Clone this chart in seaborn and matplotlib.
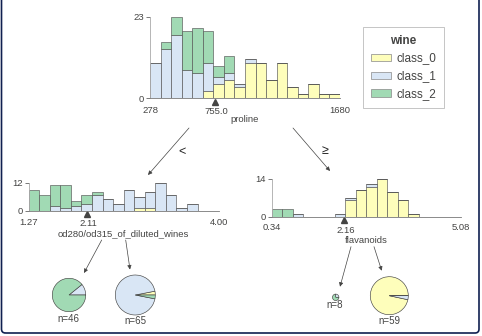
import numpy as np
import pandas as pd
import matplotlib
matplotlib.use("Agg")
import matplotlib.pyplot as plt
import seaborn as sns
from matplotlib.patches import Patch, FancyBboxPatch, FancyArrowPatch
from matplotlib.transforms import offset_copy

# ---------------- data ----------------
classes = ["class_0", "class_1", "class_2"]
class_colors = ["#FEFEBB", "#D9E6F5", "#a1dab4"]
target_name = "wine"

# root node: proline
proline_ticks = ["278", "1680"]
proline_range = [278, 1680]
proline_split = 755.0
proline_c0 = [0, 0, 0, 0, 0, 2, 4, 5, 3, 10, 10, 5, 10, 3, 1, 4, 1, 1]
proline_c1 = [10, 14, 18, 8, 7, 8, 2, 2, 1, 1, 0, 0, 0, 0, 0, 0, 0, 0]
proline_c2 = [0, 2, 5, 11, 13, 9, 3, 5, 0, 0, 0, 0, 0, 0, 0, 0, 0, 0]
proline_ymax = 23

# left node: od280/od315_of_diluted_wines
od_ticks = ["1.27", "4.00"]
od_range = [1.27, 4.00]
od_split = 2.11
od_c0 = [0, 0, 0, 0, 0, 0, 0, 0, 0, 0, 1, 1, 0, 0, 0, 0, 0, 0]
od_c1 = [0, 0, 2, 1, 2, 3, 7, 5, 3, 9, 5, 7, 12, 7, 1, 3, 0, 0]
od_c2 = [9, 7, 9, 10, 2, 4, 1, 0, 0, 0, 0, 0, 0, 0, 0, 0, 0, 0]
od_ymax = 12

# right node: flavanoids
flav_ticks = ["0.34", "5.08"]
flav_range = [0.34, 5.08]
flav_split = 2.16
flav_c0 = [0, 0, 0, 0, 0, 0, 0, 6, 10, 11, 14, 9, 6, 1, 0, 0, 0, 0]
flav_c1 = [0, 0, 1, 0, 0, 0, 1, 1, 0, 1, 0, 0, 0, 0, 0, 0, 0, 0]
flav_c2 = [3, 3, 0, 0, 0, 0, 0, 0, 0, 0, 0, 0, 0, 0, 0, 0, 0, 0]
flav_ymax = 14

# leaves
leaf_labels = ["n=46", "n=65", "n=8", "n=59"]
leaf_counts = [[0, 5, 41], [2, 61, 2], [0, 2, 6], [57, 2, 0]]

edge_labels = ["<", "\u2265"]

# ---------------- style ----------------
W, H = 482, 336
TXT = "#444443"
FONT = ["Liberation Sans", "DejaVu Sans"]
sns.set_style("white")
plt.rcParams["font.family"] = FONT
plt.rcParams["text.color"] = TXT

fig = plt.figure(figsize=(W / 100, H / 100), dpi=100)
fig.patch.set_facecolor("white")


def px_axes(x0, x1, ytop, ybot):
    return fig.add_axes([x0 / W, (H - ybot) / H, (x1 - x0) / W, (ybot - ytop) / H])


palette = dict(zip(classes, class_colors))


def node_hist(ax, rng, counts, ymax, ticks, split, xlabel, tick_pad, split_off, label_off):
    nb = len(counts[0])
    edges = np.linspace(rng[0], rng[1], nb + 1)
    centers = (edges[:-1] + edges[1:]) / 2
    rows = []
    for cls, cnt in zip(classes, counts):
        for c, n in zip(centers, cnt):
            rows.append((c, cls, n))
    df = pd.DataFrame(rows, columns=["x", "cls", "n"])
    sns.histplot(data=df, x="x", weights="n", hue="cls",
                 hue_order=classes[::-1], multiple="stack", bins=nb,
                 binrange=(rng[0], rng[1]),
                 palette=palette, edgecolor="#555555", linewidth=0.45, alpha=1,
                 legend=False, ax=ax)
    ax.set_xlim(rng)
    ax.set_ylim(0, ymax)
    ax.set_xticks(rng)
    ax.set_xticklabels(ticks)
    ax.set_yticks([0, ymax])
    ax.set_yticklabels([str(0), str(ymax)])
    ax.set_xlabel("")
    ax.set_ylabel("")
    for s in ["top", "right"]:
        ax.spines[s].set_visible(False)
    ax.spines["left"].set_color("#aaaaaa")
    ax.spines["left"].set_linewidth(0.6)
    ax.spines["bottom"].set_color("#777777")
    ax.spines["bottom"].set_linewidth(0.6)
    ax.tick_params(axis="x", length=0, pad=tick_pad, labelsize=6.8, colors=TXT)
    ax.tick_params(axis="y", length=3, width=0.5, pad=1.5, labelsize=6.8,
                   colors=TXT, left=True)
    ax.patch.set_alpha(0)
    tr = offset_copy(ax.get_xaxis_transform(), fig=fig, x=0, y=-3.5, units="dots")
    ax.plot([split], [0], marker="^", color=TXT, markersize=4.5,
            transform=tr, clip_on=False)
    ax.annotate(f"{split:.2f}" if split < 100 else f"{split:.1f}",
                xy=(split, 0), xycoords=ax.get_xaxis_transform(),
                xytext=(1.5, -split_off), textcoords="offset pixels",
                ha="center", va="center", fontsize=6.8, color=TXT)
    ax.annotate(xlabel, xy=(0.5, 0), xycoords="axes fraction",
                xytext=(0, -label_off), textcoords="offset pixels",
                ha="center", va="center", fontsize=6.8, color=TXT)


ax_root = px_axes(150, 340, 17, 98)
node_hist(ax_root, proline_range, [proline_c0, proline_c1, proline_c2],
          proline_ymax, proline_ticks, proline_split, "proline", 5.8, 14, 22)

ax_left = px_axes(28.7, 218.7, 183, 210.7)
node_hist(ax_left, od_range, [od_c0, od_c1, od_c2], od_ymax, od_ticks,
          od_split, "od280/od315_of_diluted_wines", 5.2, 12.5, 23)

ax_right = px_axes(271.7, 460.7, 178.7, 216.7)
node_hist(ax_right, flav_range, [flav_c0, flav_c1, flav_c2], flav_ymax,
          flav_ticks, flav_split, "flavanoids", 4.5, 14, 23.5)

# ---------------- overlay: arrows, pies, frame ----------------
ov = fig.add_axes([0, 0, 1, 1])
ov.set_zorder(5)
ov.patch.set_alpha(0)


def Y(y):
    return H - y


pie_geom = [(69, 295, 16.7), (135.3, 295, 20), (335.7, 297.3, 3.2), (389.3, 295.7, 19)]
label_pos = [(68.3, 319), (135.3, 321), (335, 304.5), (389.3, 320.5)]
for cnt, (cx, cy, r), lab, (lx, ly) in zip(leaf_counts, pie_geom, leaf_labels, label_pos):
    ov.pie(cnt, colors=class_colors, center=(cx, Y(cy)), radius=r,
           startangle=0, counterclock=True,
           wedgeprops=dict(edgecolor=TXT, linewidth=0.45))
    ov.text(lx, Y(ly), lab, ha="center", va="center", fontsize=7, color=TXT)

arrows = [((189, 128), (148, 175)), ((293, 128), (330, 171)),
          ((101.7, 240), (84, 273)), ((125.7, 240), (130, 269.5)),
          ((351, 246.7), (340, 286.7)), ((374, 246.7), (381.7, 270.7))]
for (x0, y0), (x1, y1) in arrows:
    ov.add_patch(FancyArrowPatch((x0, Y(y0)), (x1, Y(y1)), arrowstyle="-|>",
                                 mutation_scale=6, color=TXT, linewidth=0.5,
                                 shrinkA=0, shrinkB=0))

ov.text(182, Y(152), edge_labels[0], ha="center", va="center", fontsize=9, color="#222222")
ov.text(325, Y(151), edge_labels[1], ha="center", va="center", fontsize=9,
        color="#222222", family=FONT)

frame = FancyBboxPatch((1.5, Y(333)), 477.5, 340, boxstyle="round,pad=0,rounding_size=4",
                       facecolor="none", edgecolor="#102050", linewidth=1.2, clip_on=False)
ov.add_patch(frame)

ov.set_xlim(0, W)
ov.set_ylim(0, H)
ov.set_aspect("auto")
ov.axis("off")

# ---------------- legend ----------------
handles = [Patch(facecolor=c, edgecolor="#888888", linewidth=0.5, label=l)
           for c, l in zip(class_colors, classes)]
leg = fig.legend(handles=handles, title=target_name, loc="upper left",
                 bbox_to_anchor=(363 / W, 1 - 27 / H), frameon=True, fancybox=False,
                 edgecolor="#aaaaaa", fontsize=8.5, handlelength=1.7, handleheight=0.6,
                 handletextpad=0.45, labelspacing=0.5, borderpad=0.65, borderaxespad=0,
                 title_fontproperties={"weight": "bold", "size": 8.5, "family": FONT})
leg.get_frame().set_linewidth(0.6)
for t in leg.get_texts():
    t.set_color(TXT)
leg.get_title().set_color(TXT)

fig.savefig("out.png", dpi=100)
